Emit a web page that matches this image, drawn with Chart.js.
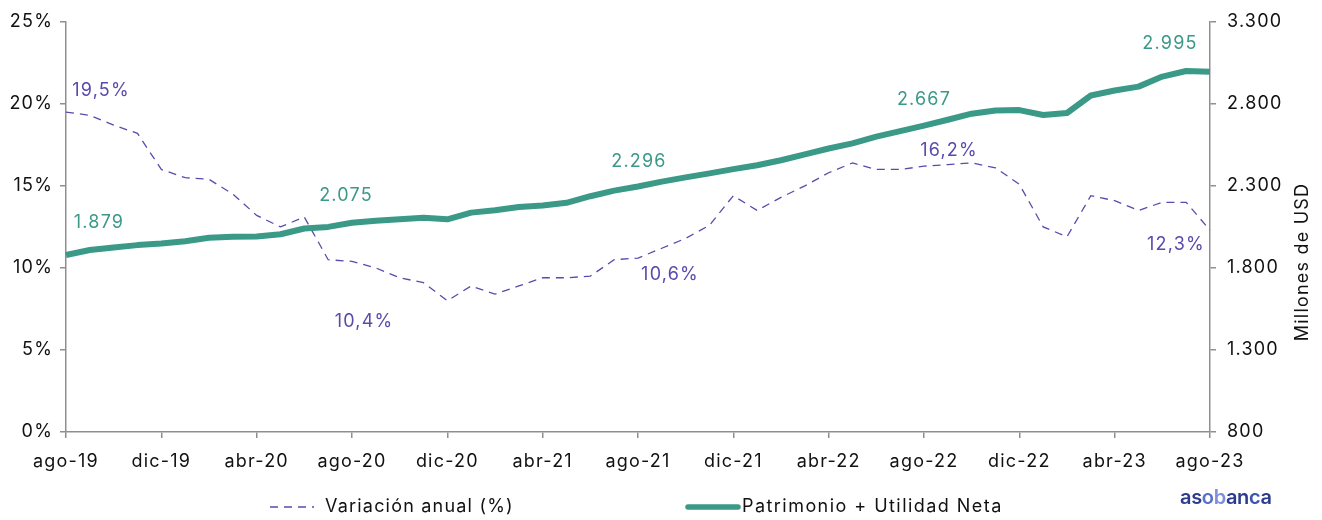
<!DOCTYPE html>
<html>
<head>
<meta charset="utf-8">
<script src="https://cdn.jsdelivr.net/npm/chart.js@4.4.1/dist/chart.umd.min.js"></script>
<style>
  html, body { margin: 0; padding: 0; background: #fff; }
  #wrap { width: 1322px; height: 520px; position: relative; }
</style>
</head>
<body>
<div id="wrap"><canvas id="c"></canvas></div>
<script>
const months = [
  'ago-19','sep-19','oct-19','nov-19','dic-19','ene-20','feb-20','mar-20','abr-20','may-20','jun-20','jul-20',
  'ago-20','sep-20','oct-20','nov-20','dic-20','ene-21','feb-21','mar-21','abr-21','may-21','jun-21','jul-21',
  'ago-21','sep-21','oct-21','nov-21','dic-21','ene-22','feb-22','mar-22','abr-22','may-22','jun-22','jul-22',
  'ago-22','sep-22','oct-22','nov-22','dic-22','ene-23','feb-23','mar-23','abr-23','may-23','jun-23','jul-23',
  'ago-23'
];
const variacionAnual = [
  19.5, 19.3, 18.7, 18.2, 16.0, 15.5, 15.4, 14.5, 13.2, 12.5, 13.1, 10.5,
  10.4, 10.0, 9.4, 9.1, 8.0, 8.9, 8.4, 8.9, 9.4, 9.4, 9.5, 10.5,
  10.6, 11.2, 11.8, 12.6, 14.4, 13.5, 14.3, 15.0, 15.8, 16.4, 16.0, 16.0,
  16.2, 16.3, 16.4, 16.1, 15.1, 12.5, 11.9, 14.4, 14.1, 13.5, 14.0, 14.0,
  12.3
];
const patrimonio = [
  1879, 1909, 1925, 1939, 1949, 1963, 1984, 1990, 1992, 2005, 2040, 2050,
  2075, 2088, 2097, 2106, 2096, 2137, 2151, 2171, 2181, 2197, 2237, 2271,
  2296, 2326, 2352, 2376, 2402, 2426, 2456, 2492, 2528, 2559, 2600, 2634,
  2667, 2703, 2740, 2760, 2762, 2732, 2744, 2851, 2881, 2905, 2966, 3000,
  2995
];
const labelIndices = [0, 12, 24, 36, 48];
const leftTicks = [0, 5, 10, 15, 20, 25];
const rightTicks = [800, 1300, 1800, 2300, 2800, 3300];

const PURPLE = '#5b4aab';
const TEAL = '#3b9987';
const AXIS = '#8f8f8f';
const FONT = 'Inter';
const SPACING = '1.2px';

function fmtThousands(v) {
  return String(Math.round(v)).replace(/\B(?=(\d{3})+(?!\d))/g, '.');
}
function fmtPct(v) {
  return v.toFixed(1).replace('.', ',') + '%';
}

// label offsets (styling) for the annotated points
const pctOffsets = [[35, -21], [12, 60], [32, 17], [25, -16], [-34, 14]];
const valOffsets = [[33, -32], [-6, -27], [1, -25], [0, -26], [-40, -28]];

const extrasPlugin = {
  id: 'extras',
  beforeLayout(chart) { chart.ctx.letterSpacing = SPACING; },
  beforeDraw(chart) { chart.ctx.letterSpacing = SPACING; },
  afterDatasetsDraw(chart) {
    const ctx = chart.ctx;
    ctx.save();
    ctx.letterSpacing = SPACING;
    ctx.font = '18px ' + FONT;
    ctx.textAlign = 'center';
    ctx.textBaseline = 'middle';
    const m0 = chart.getDatasetMeta(0);
    const m1 = chart.getDatasetMeta(1);
    labelIndices.forEach((idx, k) => {
      const p = m0.data[idx];
      ctx.fillStyle = PURPLE;
      ctx.fillText(fmtPct(variacionAnual[idx]), p.x + pctOffsets[k][0], p.y + pctOffsets[k][1]);
      const q = m1.data[idx];
      ctx.fillStyle = TEAL;
      ctx.fillText(fmtThousands(patrimonio[idx]), q.x + valOffsets[k][0], q.y + valOffsets[k][1]);
    });
    ctx.restore();
  },
  afterDraw(chart) {
    const ctx = chart.ctx;
    ctx.save();
    ctx.letterSpacing = SPACING;
    // right axis title
    ctx.translate(1303, 262);
    ctx.rotate(-Math.PI / 2);
    ctx.font = '18px ' + FONT;
    ctx.fillStyle = '#111';
    ctx.textAlign = 'center';
    ctx.textBaseline = 'middle';
    ctx.fillText('Millones de USD', 0, 0);
    ctx.restore();

    // legend
    ctx.save();
    ctx.letterSpacing = SPACING;
    const ly = 507;
    ctx.strokeStyle = PURPLE;
    ctx.lineWidth = 1.3;
    ctx.setLineDash([8, 6]);
    ctx.beginPath();
    ctx.moveTo(270, ly);
    ctx.lineTo(314, ly);
    ctx.stroke();
    ctx.setLineDash([]);
    ctx.strokeStyle = TEAL;
    ctx.lineWidth = 5.5;
    ctx.lineCap = 'round';
    ctx.beginPath();
    ctx.moveTo(688, ly);
    ctx.lineTo(738, ly);
    ctx.stroke();
    ctx.font = '18px ' + FONT;
    ctx.fillStyle = '#111';
    ctx.textAlign = 'left';
    ctx.textBaseline = 'middle';
    ctx.fillText('Variación anual (%)', 325, ly);
    ctx.letterSpacing = '1.45px';
    ctx.fillText('Patrimonio + Utilidad Neta', 742, ly);

    // logo text
    ctx.letterSpacing = '0px';
    ctx.font = '600 20px ' + FONT;
    const letters = 'asobanca'.split('');
    const cols = ['#2b3c8f','#2b3c8f','#5b72c8','#7d8fd8','#2b3c8f','#2b3c8f','#3a56b0','#2b3c8f'];
    let x = 1180;
    letters.forEach((ch, i) => {
      ctx.fillStyle = cols[i];
      ctx.fillText(ch, x, 498);
      x += ctx.measureText(ch).width - 0.3;
    });
    ctx.restore();
  }
};

new Chart(document.getElementById('c'), {
  type: 'line',
  data: {
    labels: months,
    datasets: [
      {
        label: 'Variación anual (%)',
        data: variacionAnual,
        yAxisID: 'y',
        borderColor: PURPLE,
        borderWidth: 1.3,
        borderDash: [8, 6],
        pointRadius: 0,
        tension: 0,
        fill: false,
        order: 2
      },
      {
        label: 'Patrimonio + Utilidad Neta',
        data: patrimonio,
        yAxisID: 'y1',
        borderColor: TEAL,
        borderWidth: 6,
        pointRadius: 0,
        tension: 0,
        fill: false,
        borderCapStyle: 'butt',
        borderJoinStyle: 'round',
        order: 1
      }
    ]
  },
  options: {
    responsive: true,
    maintainAspectRatio: false,
    animation: false,
    layout: { padding: { top: 18, left: 0, right: 0, bottom: 0 } },
    plugins: {
      legend: { display: false },
      tooltip: { enabled: false }
    },
    scales: {
      x: {
        type: 'category',
        offset: false,
        grid: {
          drawOnChartArea: false,
          drawTicks: true,
          tickLength: 6,
          color: (c) => (c.index % 4 === 0 ? AXIS : 'rgba(0,0,0,0)'),
          lineWidth: 1.5
        },
        border: { display: true, color: AXIS, width: 1.5 },
        ticks: {
          autoSkip: false,
          maxRotation: 0,
          minRotation: 0,
          padding: 13,
          color: '#111',
          font: { family: FONT, size: 18 },
          callback: function (v, i) { return i % 4 === 0 ? months[i] : ''; }
        },
        afterFit(s) { s.height = 88; }
      },
      y: {
        position: 'left',
        min: 0,
        max: 25,
        afterBuildTicks(s) { s.ticks = leftTicks.map(v => ({ value: v })); },
        grid: { drawOnChartArea: false, tickLength: 6, color: AXIS, lineWidth: 1.5 },
        border: { display: true, color: AXIS, width: 1.5 },
        ticks: {
          padding: 7,
          color: '#111',
          font: { family: FONT, size: 18 },
          callback: (v) => v + '%'
        },
        afterFit(s) { s.width = 66; }
      },
      y1: {
        position: 'right',
        min: 800,
        max: 3300,
        afterBuildTicks(s) { s.ticks = rightTicks.map(v => ({ value: v })); },
        grid: { drawOnChartArea: false, tickLength: 6, color: AXIS, lineWidth: 1.5 },
        border: { display: true, color: AXIS, width: 1.5 },
        ticks: {
          padding: 11,
          color: '#111',
          font: { family: FONT, size: 18 },
          callback: (v) => fmtThousands(v)
        },
        afterFit(s) { s.width = 112; }
      }
    }
  },
  plugins: [extrasPlugin]
});
</script>
</body>
</html>
